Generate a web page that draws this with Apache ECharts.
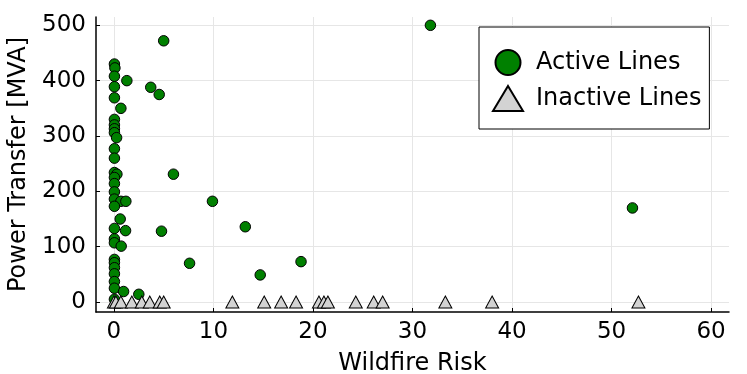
<!DOCTYPE html>
<html>
<head>
<meta charset="utf-8">
<script src="https://cdn.jsdelivr.net/npm/echarts@6/dist/echarts.min.js"></script>
<style>
  html, body { margin: 0; padding: 0; background: #fff; }
  #chart { width: 747px; height: 374px; }
</style>
</head>
<body>
<div id="chart"></div>
<script>
// active lines: [wildfire risk, power transfer]
const activeLines = [
  [0.05, 430], [0.1, 423], [0.05, 408], [1.3, 400], [0.05, 389], [3.7, 388],
  [4.55, 375], [5.0, 472], [0.05, 369], [0.7, 350], [0.05, 330], [0.05, 320],
  [0.05, 313], [0.05, 306], [0.27, 297], [0.05, 277], [0.05, 260],
  [0.05, 234], [0.3, 231], [0.05, 225], [0.05, 214], [0.05, 199], [0.05, 186],
  [0.7, 182], [1.2, 182], [0.05, 173], [0.63, 150], [0.05, 133], [1.17, 129],
  [0.05, 114], [0.05, 107], [0.73, 101], [0.05, 77], [0.05, 71], [0.05, 62],
  [0.05, 51], [0.05, 37], [0.05, 25], [0.97, 19], [2.5, 14], [0.05, 5],
  [5.98, 231], [9.9, 182], [4.78, 128], [7.6, 70], [13.2, 136], [18.8, 73],
  [14.7, 49], [31.8, 500], [52.1, 170]
]
// inactive lines: sit at zero transfer
const inactiveLines = [
  [0, 0], [0.2, 0], [0.7, 0], [1.8, 0], [2.8, 0], [3.6, 0], [4.6, 0], [5.0, 0],
  [11.9, 0], [15.1, 0], [16.8, 0], [18.3, 0], [20.6, 0], [21.1, 0], [21.5, 0],
  [24.3, 0], [26.1, 0], [27.0, 0], [33.3, 0], [38.0, 0], [52.7, 0]
]
const xTicks = [0, 10, 20, 30, 40, 50, 60]
const yTicks = [0, 100, 200, 300, 400, 500]

const chart = echarts.init(document.getElementById('chart'))
const font = 'DejaVu Sans'
const gridColor = '#e6e6e6'

const option = {
  animation: false,
  textStyle: { fontFamily: font },
  grid: { left: 96, right: 18, top: 17, bottom: 62, outerBoundsMode: 'none', containLabel: false },
  legend: {
    left: 479,
    top: 27,
    orient: 'vertical',
    backgroundColor: '#fff',
    borderColor: '#000',
    borderWidth: 1,
    borderRadius: 0,
    padding: [22, 8, 17, 13],
    itemWidth: 30,
    itemHeight: 25,
    itemGap: 9,
    textStyle: { fontSize: 24, color: '#000', fontFamily: font, padding: [0, 0, 0, 8] },
    data: [
      { name: 'Active Lines', icon: 'circle' },
      { name: 'Inactive Lines', icon: 'triangle' }
    ]
  },
  xAxis: {
    type: 'value',
    min: -1.8,
    max: 61.8,
    name: 'Wildfire Risk',
    nameLocation: 'middle',
    nameGap: 40,
    nameTextStyle: { fontSize: 24, color: '#000' },
    axisLine: { onZero: false, lineStyle: { color: '#000', width: 1.5 } },
    axisTick: { show: true, inside: true, length: 4, customValues: xTicks, lineStyle: { color: '#000' } },
    axisLabel: { customValues: xTicks, fontSize: 23, color: '#000', margin: 9 },
    splitLine: { show: true, lineStyle: { color: gridColor, width: 1 } }
  },
  yAxis: {
    type: 'value',
    min: -18,
    max: 515,
    name: 'Power Transfer [MVA]',
    nameLocation: 'middle',
    nameGap: 59,
    nameTextStyle: { fontSize: 24, color: '#000' },
    axisLine: { show: true, onZero: false, lineStyle: { color: '#000', width: 1.5 } },
    axisTick: { show: true, inside: true, length: 4, customValues: yTicks, lineStyle: { color: '#000' } },
    axisLabel: { customValues: yTicks, fontSize: 23, color: '#000', margin: 10 },
    splitLine: { show: true, lineStyle: { color: gridColor, width: 1 } }
  },
  series: [
    {
      name: 'Active Lines',
      type: 'scatter',
      symbol: 'circle',
      symbolSize: 10.5,
      itemStyle: { color: '#008000', borderColor: '#000', borderWidth: 1, opacity: 1 },
      data: activeLines,
      z: 3
    },
    {
      name: 'Inactive Lines',
      type: 'scatter',
      symbol: 'triangle',
      symbolSize: [13, 12],
      itemStyle: { color: '#d3d3d3', borderColor: '#000', borderWidth: 1, opacity: 1 },
      data: inactiveLines,
      z: 4
    }
  ]
}
chart.setOption(option)
</script>
</body>
</html>
